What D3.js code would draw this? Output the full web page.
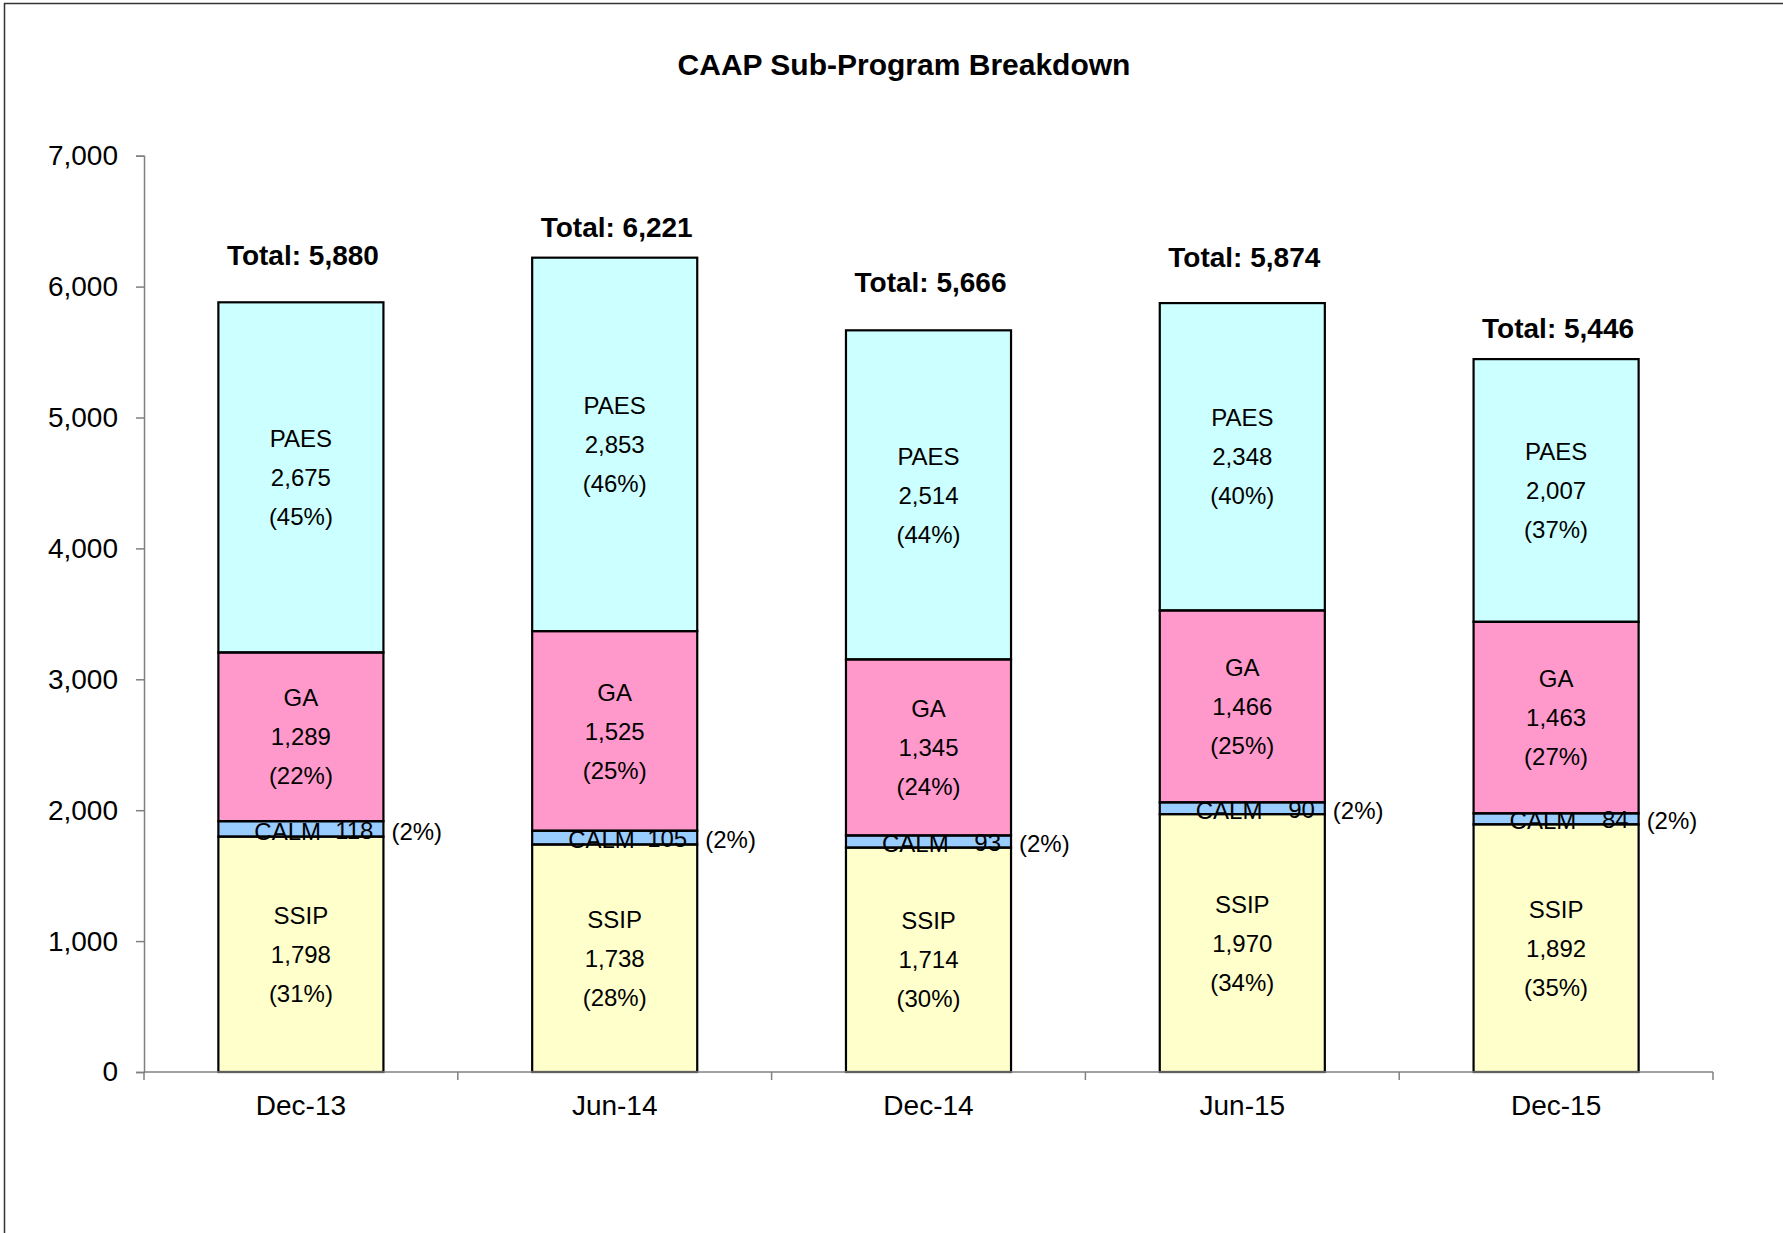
<!DOCTYPE html>
<html>
<head>
<meta charset="utf-8">
<script src="https://cdn.jsdelivr.net/npm/d3@7"></script>
<style>
  body { margin: 0; background: #fff; }
  svg { display: block; font-family: "Liberation Sans", Arial, sans-serif; }
</style>
</head>
<body>
<div id="chart"></div>
<script>
const width = 1783;
const height = 1233;

// data
const categories = ['Dec-13', 'Jun-14', 'Dec-14', 'Jun-15', 'Dec-15'];
const ssip = [1798, 1738, 1714, 1970, 1892];
const calm = [118, 105, 93, 90, 84];
const ga   = [1289, 1525, 1345, 1466, 1463];
const paes = [2675, 2853, 2514, 2348, 2007];
const yTicks = [0, 1000, 2000, 3000, 4000, 5000, 6000, 7000];

// total label lift above bar top (px), the original has them hand placed
const totalLift = [37, 21, 38, 36, 21];

const keys = ['SSIP', 'CALM', 'GA', 'PAES'];
const colors = {SSIP: '#FFFFCC', CALM: '#99CCFF', GA: '#FF99CC', PAES: '#CCFFFF'};

const rows = categories.map((c, i) => ({
  cat: c, SSIP: ssip[i], CALM: calm[i], GA: ga[i], PAES: paes[i],
  total: ssip[i] + calm[i] + ga[i] + paes[i]
}));

const x = d3.scaleBand()
  .domain(categories)
  .range([144, 1713])
  .paddingInner(0.474)
  .paddingOuter(0.237);

const y = d3.scaleLinear()
  .domain([0, 7000])
  .range([1072, 155.7]);

const fmt = d3.format(',');

const svg = d3.select('#chart')
  .append('svg')
  .attr('width', width)
  .attr('height', height);

// outer chart border (runs off right / bottom like the original)
svg.append('rect')
  .attr('x', 4.5).attr('y', 3.5)
  .attr('width', width + 20).attr('height', height + 20)
  .attr('fill', 'none')
  .attr('stroke', '#333')
  .attr('stroke-width', 1.5);

svg.append('text')
  .attr('x', 904).attr('y', 75)
  .attr('text-anchor', 'middle')
  .attr('font-size', 30)
  .attr('font-weight', 'bold')
  .text('CAAP Sub-Program Breakdown');

const series = d3.stack().keys(keys)(rows);

// fills first, calm labels, then outlines on top
const fillG = svg.append('g');
const calmG = svg.append('g');
const lineG = svg.append('g');

series.forEach(s => {
  fillG.selectAll(null)
    .data(s)
    .enter().append('rect')
    .attr('x', d => x(d.data.cat))
    .attr('y', d => y(d[1]))
    .attr('width', x.bandwidth())
    .attr('height', d => y(d[0]) - y(d[1]))
    .attr('fill', colors[s.key]);

  lineG.selectAll(null)
    .data(s)
    .enter().append('rect')
    .attr('x', d => x(d.data.cat))
    .attr('y', d => y(d[1]))
    .attr('width', x.bandwidth())
    .attr('height', d => y(d[0]) - y(d[1]))
    .attr('fill', 'none')
    .attr('stroke', '#000')
    .attr('stroke-width', 2.2);
});

// big segment labels: name / value / (pct)
series.filter(s => s.key !== 'CALM').forEach(s => {
  const g = svg.append('g')
    .attr('font-size', 24)
    .attr('text-anchor', 'middle');
  s.forEach(d => {
    const cx = x(d.data.cat) + x.bandwidth() / 2;
    const mid = (y(d[0]) + y(d[1])) / 2;
    const v = d[1] - d[0];
    const pct = Math.round(v / d.data.total * 100);
    const lines = [s.key, fmt(v), '(' + pct + '%)'];
    lines.forEach((t, j) => {
      g.append('text')
        .attr('x', cx)
        .attr('y', mid + (j - 1) * 39)
        .attr('dy', '0.36em')
        .text(t);
    });
  });
});

// calm labels squeezed into the thin band
const calmS = series.find(s => s.key === 'CALM');
calmS.forEach(d => {
  const x0 = x(d.data.cat);
  const mid = (y(d[0]) + y(d[1])) / 2;
  const v = d[1] - d[0];
  const pct = Math.round(v / d.data.total * 100);
  calmG.append('text')
    .attr('x', x0 + 36).attr('y', mid + 2)
    .attr('dy', '0.36em')
    .attr('font-size', 24)
    .text('CALM');
  calmG.append('text')
    .attr('x', x0 + x.bandwidth() - 10).attr('y', mid + 1)
    .attr('dy', '0.36em')
    .attr('font-size', 24)
    .attr('text-anchor', 'end')
    .text(fmt(v));
  svg.append('text')
    .attr('x', x0 + x.bandwidth() + 8).attr('y', mid + 2)
    .attr('dy', '0.36em')
    .attr('font-size', 24)
    .text('(' + pct + '%)');
});

// totals
svg.append('g').selectAll('text')
  .data(rows)
  .enter().append('text')
  .attr('x', d => x(d.cat) + x.bandwidth() / 2 + 2)
  .attr('y', (d, i) => y(d.total) - totalLift[i])
  .attr('text-anchor', 'middle')
  .attr('font-size', 28)
  .attr('font-weight', 'bold')
  .text(d => 'Total: ' + fmt(d.total));

// y axis
const yAxis = svg.append('g')
  .attr('transform', 'translate(144,0)')
  .call(d3.axisLeft(y).tickValues(yTicks).tickFormat(fmt).tickSize(8).tickPadding(18));
yAxis.select('.domain').attr('stroke', '#808080').attr('stroke-width', 1.5);
yAxis.selectAll('.tick line').attr('stroke', '#808080').attr('stroke-width', 1.5);
yAxis.selectAll('.tick text')
  .attr('font-size', 28)
  .attr('font-family', '"Liberation Sans", Arial, sans-serif')
  .attr('fill', '#000');

// x axis: excel style ticks between categories
const step = x.step();
const x0 = x.range()[0];
const xg = svg.append('g');
xg.append('line')
  .attr('x1', x0).attr('x2', x.range()[1])
  .attr('y1', y(0)).attr('y2', y(0))
  .attr('stroke', '#808080').attr('stroke-width', 1.5);
xg.selectAll('line.tk')
  .data(d3.range(categories.length + 1))
  .enter().append('line')
  .attr('class', 'tk')
  .attr('x1', i => x0 + i * step).attr('x2', i => x0 + i * step)
  .attr('y1', y(0)).attr('y2', y(0) + 8)
  .attr('stroke', '#808080').attr('stroke-width', 1.5);
xg.selectAll('text')
  .data(categories)
  .enter().append('text')
  .attr('x', d => x(d) + x.bandwidth() / 2)
  .attr('y', 1115)
  .attr('text-anchor', 'middle')
  .attr('font-size', 28)
  .text(d => d);
</script>
</body>
</html>
